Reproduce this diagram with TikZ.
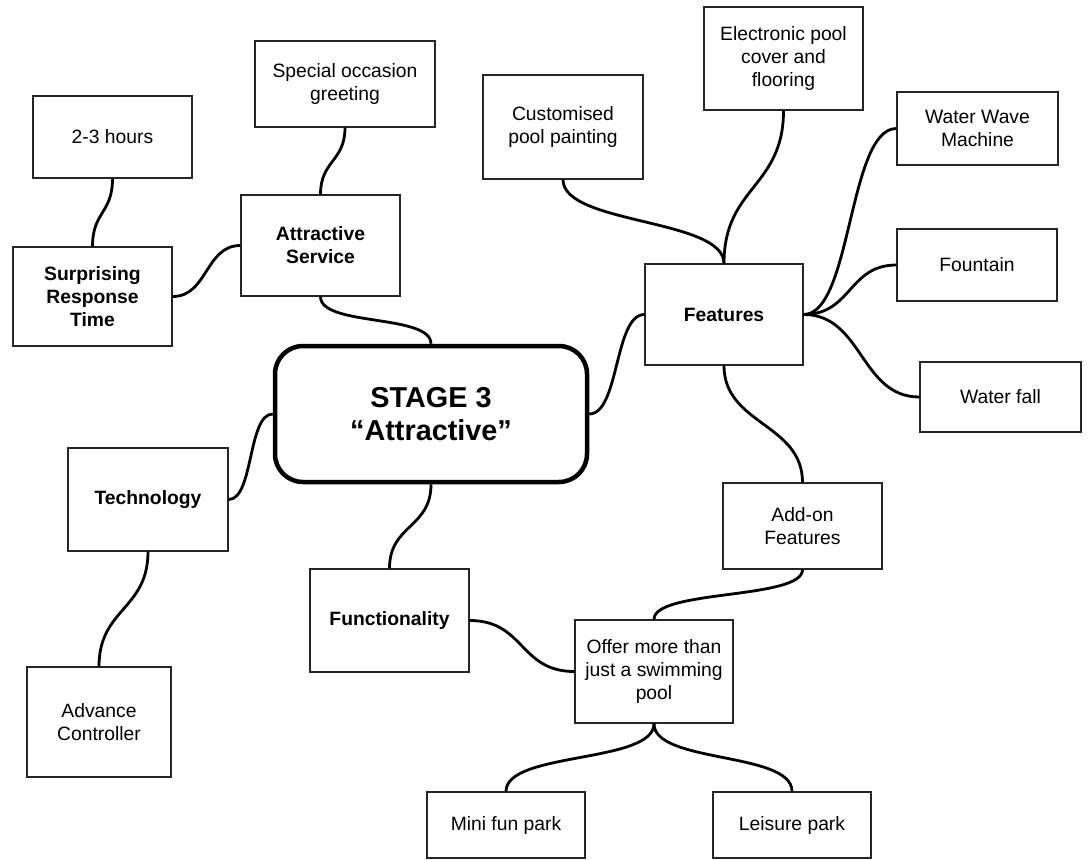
\documentclass[tikz,border=0pt]{standalone}
\usepackage{fontspec}
\setmainfont{Liberation Sans}
\begin{document}
\begin{tikzpicture}[x=1pt,y=-1pt,
  box/.style={draw=black!85, line width=1.3pt, fill=white, align=center, inner sep=0pt,
    font=\fontsize{19.3}{23}\selectfont},
  keybox/.style={box, font=\fontsize{19.3}{23}\selectfont\bfseries},
  hub/.style={draw=black, line width=4.5pt, fill=white, rounded corners=28pt, align=center,
    inner sep=0pt, font=\fontsize{28.8}{33}\selectfont\bfseries},
  link/.style={draw=black, line width=2.8pt}
]
\useasboundingbox (0,0) rectangle (1088,860);

% central topic
\node[hub, minimum width=312pt, minimum height=136pt] (hub) at (431,414) {STAGE 3\\“Attractive”};

% left branch
\node[box, minimum width=159pt, minimum height=82pt] (hours) at (112.5,137) {2-3 hours};
\node[box, minimum width=180pt, minimum height=86pt] (special) at (345,84) {Special occasion\\greeting};
\node[keybox, minimum width=159pt, minimum height=101pt] (service) at (320.5,245.5) {Attractive\\Service};
\node[keybox, minimum width=159pt, minimum height=99pt] (surprise) at (92.5,296.5) {Surprising\\Response\\Time};
\node[keybox, minimum width=160pt, minimum height=103pt] (tech) at (148,499.5) {Technology};
\node[box, minimum width=144pt, minimum height=110pt] (advance) at (99,722) {Advance\\Controller};
\node[keybox, minimum width=159pt, minimum height=103pt] (func) at (389.5,620.5) {Functionality};

% right branch
\node[box, minimum width=160pt, minimum height=104pt] (custom) at (563,127) {Customised\\pool painting};
\node[box, minimum width=159pt, minimum height=103pt] (electronic) at (783.5,58.5) {Electronic pool\\cover and\\flooring};
\node[keybox, minimum width=158pt, minimum height=101pt] (features) at (724,314.5) {Features};
\node[box, minimum width=161pt, minimum height=73pt] (wave) at (977.5,128.5) {Water Wave\\Machine};
\node[box, minimum width=160pt, minimum height=72pt] (fountain) at (977,265) {Fountain};
\node[box, minimum width=161pt, minimum height=70pt] (waterfall) at (1000.5,397) {Water fall};
\node[box, minimum width=159pt, minimum height=86pt] (addon) at (802.5,526) {Add-on\\Features};
\node[box, minimum width=158pt, minimum height=103pt] (offer) at (654,671.5) {Offer more than\\just a swimming\\pool};
\node[box, minimum width=158pt, minimum height=66pt] (mini) at (506,825) {Mini fun park};
\node[box, minimum width=158pt, minimum height=66pt] (leisure) at (792,825) {Leisure park};

% connectors
\draw[link] (hours.south) .. controls +(0,35) and +(0,-35) .. (surprise.north);
\draw[link] (special.south) .. controls +(0,34) and +(0,-34) .. (service.north);
\draw[link] (surprise.east) .. controls +(35,0) and +(-35,0) .. (service.west);
\draw[link] (service.south) .. controls +(0,30) and +(0,-30) .. (hub.north);
\draw[link] (tech.east) .. controls +(25,0) and +(-25,0) .. (hub.west);
\draw[link] (tech.south) .. controls +(0,58) and +(0,-58) .. (advance.north);
\draw[link] (hub.south) .. controls +(0,44) and +(0,-44) .. (func.north);
\draw[link] (func.east) .. controls +(55,0) and +(-55,0) .. (offer.west);
\draw[link] (hub.east) .. controls +(30,0) and +(-30,0) .. (features.west);
\draw[link] (custom.south) .. controls +(0,45) and +(0,-45) .. (features.north);
\draw[link] (electronic.south) .. controls +(0,77) and +(0,-77) .. (features.north);
\draw[link] (features.east) .. controls +(48,0) and +(-48,0) .. (wave.west);
\draw[link] (features.east) .. controls +(48,0) and +(-48,0) .. (fountain.west);
\draw[link] (features.east) .. controls +(59,0) and +(-59,0) .. (waterfall.west);
\draw[link] (features.south) .. controls +(0,59) and +(0,-59) .. (addon.north);
\draw[link] (addon.south) .. controls +(0,30) and +(0,-30) .. (offer.north);
\draw[link] (offer.south) .. controls +(0,40) and +(0,-40) .. (mini.north);
\draw[link] (offer.south) .. controls +(0,40) and +(0,-40) .. (leisure.north);
\end{tikzpicture}
\end{document}
